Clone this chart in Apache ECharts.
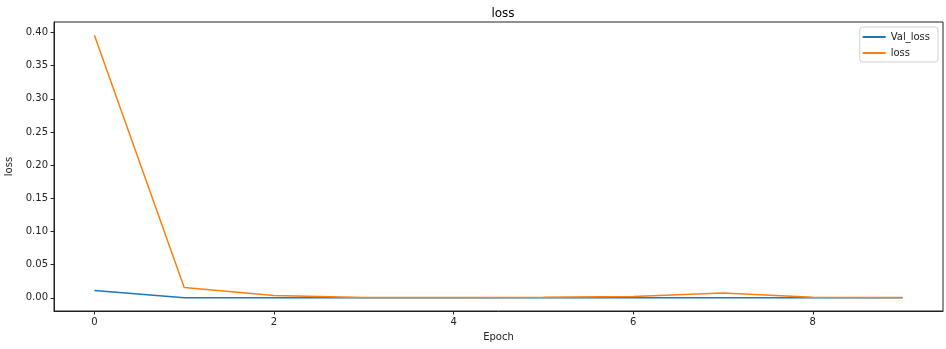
<!DOCTYPE html>
<html>
<head>
<meta charset="utf-8">
<script src="https://cdn.jsdelivr.net/npm/echarts@6/dist/echarts.min.js"></script>
<style>
  html, body { margin: 0; padding: 0; background: #fff; }
  #main { width: 946px; height: 349px; }
</style>
</head>
<body>
<div id="main"></div>
<script>
// epochs and values
var epochs = [0, 1, 2, 3, 4, 5, 6, 7, 8, 9];
var valLoss = [0.011, 0.0002, 0.0001, 0.0001, 0.0001, 0.0001, 0.0001, 0.0001, 0.0001, 0.0001];
var trainLoss = [0.396, 0.0155, 0.0035, 0.0005, 0.0005, 0.001, 0.002, 0.0075, 0.001, 0.0005];
var xTicks = [0, 2, 4, 6, 8];
var yTicks = [0, 0.05, 0.10, 0.15, 0.20, 0.25, 0.30, 0.35, 0.40];

function pairs(ys) {
  return epochs.map(function (x, i) { return [x, ys[i]]; });
}

var font = 'DejaVu Sans';
var chart = echarts.init(document.getElementById('main'));
chart.setOption({
  animation: false,
  textStyle: { fontFamily: font },
  title: {
    text: 'loss',
    left: 498, top: 3, textAlign: 'center',
    textStyle: { fontFamily: font, fontSize: 12, fontWeight: 'normal', color: '#000' }
  },
  legend: {
    orient: 'vertical',
    right: 8, top: 27,
    icon: 'rect', itemWidth: 23, itemHeight: 2, itemGap: 4,
    padding: [4, 8, 3, 3],
    borderColor: '#d0d0d0', borderWidth: 1, borderRadius: 3,
    textStyle: { fontFamily: font, fontSize: 10, color: '#222', lineHeight: 12 },
    data: ['Val_loss', 'loss']
  },
  grid: {
    left: 54, right: 3, top: 22, bottom: 38,
    outerBoundsMode: 'none', containLabel: false,
    show: true, borderColor: '#222', borderWidth: 1
  },
  xAxis: {
    type: 'value', min: -0.45, max: 9.45,
    name: 'Epoch', nameLocation: 'middle', nameGap: 21,
    nameTextStyle: { fontFamily: font, fontSize: 10, color: '#222' },
    axisLine: { show: true, onZero: false, lineStyle: { color: '#222', width: 1 } },
    axisTick: { show: true, length: 3.5, customValues: xTicks, lineStyle: { color: '#222' } },
    axisLabel: { customValues: xTicks, fontFamily: font, fontSize: 10, color: '#222', margin: 6 },
    splitLine: { show: false }
  },
  yAxis: {
    type: 'value', min: -0.0198, max: 0.4158,
    name: 'loss', nameLocation: 'middle', nameGap: 35, nameRotate: 90,
    nameTextStyle: { fontFamily: font, fontSize: 10, color: '#222' },
    axisLine: { show: true, onZero: false, lineStyle: { color: '#222', width: 1 } },
    axisTick: { show: true, length: 3.5, customValues: yTicks, lineStyle: { color: '#222' } },
    axisLabel: {
      customValues: yTicks, fontFamily: font, fontSize: 10, color: '#222', margin: 6,
      formatter: function (v) { return v.toFixed(2); }
    },
    splitLine: { show: false }
  },
  series: [
    {
      name: 'Val_loss', type: 'line', data: pairs(valLoss),
      symbol: 'none', color: '#1f77b4',
      lineStyle: { width: 1.5, color: '#1f77b4' }
    },
    {
      name: 'loss', type: 'line', data: pairs(trainLoss),
      symbol: 'none', color: '#ff7f0e',
      lineStyle: { width: 1.5, color: '#ff7f0e' }
    }
  ]
});
</script>
</body>
</html>
